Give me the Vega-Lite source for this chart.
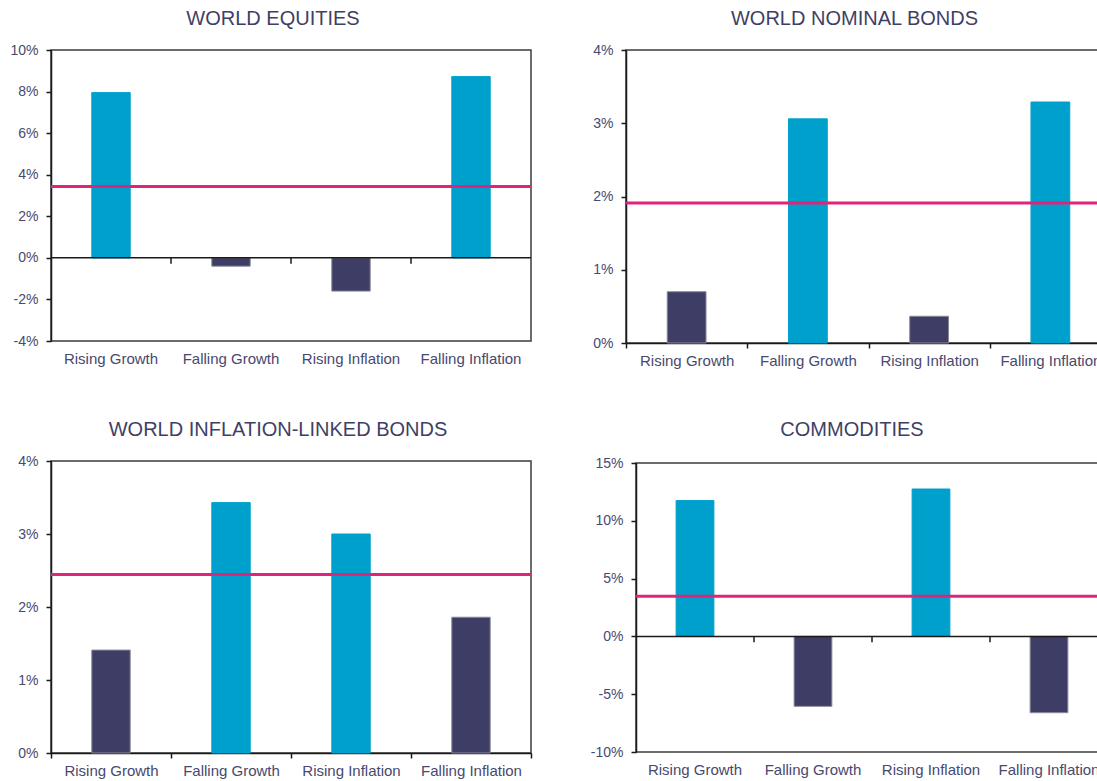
{
  "$schema": "https://vega.github.io/schema/vega-lite/v6.json",
  "padding": {"left": 0, "top": 8, "right": 0, "bottom": 0},
  "background": "white",
  "config": {
    "font": "Liberation Sans",
    "view": {"stroke": "#3c3c3c", "strokeWidth": 1.5},
    "axis": {"grid": false, "labelFont": "Liberation Sans", "labelColor": "#48496e", "domainColor": "#1a1a1a", "tickColor": "#1a1a1a", "domainWidth": 1.5, "tickWidth": 1.5, "title": null},
    "axisY": {"labelFontSize": 14, "tickSize": 5, "labelPadding": 8},
    "axisX": {"labelFontSize": 15, "labelAngle": 0, "minExtent": 30, "maxExtent": 30},
    "title": {"font": "Liberation Sans", "fontSize": 20, "fontWeight": "normal", "color": "#3f3f66", "offset": 14, "anchor": "middle"}
  },
  "datasets": {
    "bars": [
      {"panel": "eq", "cat": "Rising Growth", "value": 7.95, "vsAvg": "above"},
      {"panel": "eq", "cat": "Falling Growth", "value": -0.4, "vsAvg": "below"},
      {"panel": "eq", "cat": "Rising Inflation", "value": -1.6, "vsAvg": "below"},
      {"panel": "eq", "cat": "Falling Inflation", "value": 8.72, "vsAvg": "above"},
      {"panel": "nb", "cat": "Rising Growth", "value": 0.70, "vsAvg": "below"},
      {"panel": "nb", "cat": "Falling Growth", "value": 3.06, "vsAvg": "above"},
      {"panel": "nb", "cat": "Rising Inflation", "value": 0.365, "vsAvg": "below"},
      {"panel": "nb", "cat": "Falling Inflation", "value": 3.29, "vsAvg": "above"},
      {"panel": "il", "cat": "Rising Growth", "value": 1.41, "vsAvg": "below"},
      {"panel": "il", "cat": "Falling Growth", "value": 3.43, "vsAvg": "above"},
      {"panel": "il", "cat": "Rising Inflation", "value": 3.0, "vsAvg": "above"},
      {"panel": "il", "cat": "Falling Inflation", "value": 1.86, "vsAvg": "below"},
      {"panel": "cm", "cat": "Rising Growth", "value": 11.75, "vsAvg": "above"},
      {"panel": "cm", "cat": "Falling Growth", "value": -6.05, "vsAvg": "below"},
      {"panel": "cm", "cat": "Rising Inflation", "value": 12.75, "vsAvg": "above"},
      {"panel": "cm", "cat": "Falling Inflation", "value": -6.6, "vsAvg": "below"}
    ],
    "avg": [
      {"panel": "eq", "value": 3.43},
      {"panel": "nb", "value": 1.91},
      {"panel": "il", "value": 2.445},
      {"panel": "cm", "value": 3.47}
    ]
  },
  "columns": 2,
  "align": "none",
  "spacing": {"row": 45, "column": 40},
  "concat": [
    {
      "title": {"text": "WORLD EQUITIES", "dx": -18},
      "width": 480,
      "height": 291,
      "layer": [
        {
          "data": {"name": "bars"},
          "transform": [{"filter": "datum.panel === 'eq'"}],
          "mark": {"type": "bar", "width": {"band": 0.32}, "strokeWidth": 1},
          "encoding": {
            "x": {"field": "cat", "type": "nominal", "sort": null, "scale": {"paddingInner": 0, "paddingOuter": 0}, "axis": {"ticks": false, "labelPadding": 10, "domain": false}},
            "y": {"field": "value", "type": "quantitative", "scale": {"domain": [-4, 10], "nice": false}, "axis": {"values": [-4, -2, 0, 2, 4, 6, 8, 10], "labelExpr": "datum.value + '%'", "minExtent": 50, "maxExtent": 50}},
            "color": {"field": "vsAvg", "type": "nominal", "scale": {"domain": ["above", "below"], "range": ["#00A0CC", "#3D3D66"]}, "legend": null},
            "stroke": {"field": "vsAvg", "type": "nominal", "scale": {"domain": ["above", "below"], "range": ["#00A0CC", "#8a8a99"]}, "legend": null}
          }
        },
        {
          "data": {"name": "avg"},
          "transform": [{"filter": "datum.panel === 'eq'"}],
          "mark": {"type": "rule", "color": "#1a1a1a", "strokeWidth": 1.5},
          "encoding": {"y": {"datum": 0}}
        },
        {
          "data": {"name": "bars"},
          "transform": [{"filter": "datum.panel === 'eq' && datum.cat !== 'Rising Growth'"}],
          "mark": {"type": "rule", "color": "#1a1a1a", "strokeWidth": 1.5},
          "encoding": {
            "x": {"field": "cat", "type": "nominal", "sort": null, "bandPosition": 0},
            "y": {"datum": 0},
            "y2": {"datum": -0.28}
          }
        },
        {
          "data": {"name": "avg"},
          "transform": [{"filter": "datum.panel === 'eq'"}],
          "mark": {"type": "rule", "color": "#E0247A", "strokeWidth": 3},
          "encoding": {"y": {"field": "value", "type": "quantitative"}}
        }
      ]
    },
    {
      "title": {"text": "WORLD NOMINAL  BONDS", "dx": -14},
      "width": 485,
      "height": 293,
      "layer": [
        {
          "data": {"name": "bars"},
          "transform": [{"filter": "datum.panel === 'nb'"}],
          "mark": {"type": "bar", "width": {"band": 0.32}, "strokeWidth": 1},
          "encoding": {
            "x": {"field": "cat", "type": "nominal", "sort": null, "scale": {"paddingInner": 0, "paddingOuter": 0}, "axis": {"ticks": true, "tickSize": 5, "tickBand": "extent", "labelPadding": 5}},
            "y": {"field": "value", "type": "quantitative", "scale": {"domain": [0, 4], "nice": false}, "axis": {"values": [0, 1, 2, 3, 4], "labelExpr": "datum.value + '%'", "minExtent": 51, "maxExtent": 51}},
            "color": {"field": "vsAvg", "type": "nominal", "scale": {"domain": ["above", "below"], "range": ["#00A0CC", "#3D3D66"]}, "legend": null},
            "stroke": {"field": "vsAvg", "type": "nominal", "scale": {"domain": ["above", "below"], "range": ["#00A0CC", "#8a8a99"]}, "legend": null}
          }
        },
        {
          "data": {"name": "avg"},
          "transform": [{"filter": "datum.panel === 'nb'"}],
          "mark": {"type": "rule", "color": "#E0247A", "strokeWidth": 3},
          "encoding": {"y": {"field": "value", "type": "quantitative"}}
        }
      ]
    },
    {
      "title": {"text": "WORLD INFLATION-LINKED  BONDS", "dx": -13},
      "width": 480,
      "height": 292,
      "layer": [
        {
          "data": {"name": "bars"},
          "transform": [{"filter": "datum.panel === 'il'"}],
          "mark": {"type": "bar", "width": {"band": 0.32}, "strokeWidth": 1},
          "encoding": {
            "x": {"field": "cat", "type": "nominal", "sort": null, "scale": {"paddingInner": 0, "paddingOuter": 0}, "axis": {"ticks": true, "tickSize": 5, "tickBand": "extent", "labelPadding": 5}},
            "y": {"field": "value", "type": "quantitative", "scale": {"domain": [0, 4], "nice": false}, "axis": {"values": [0, 1, 2, 3, 4], "labelExpr": "datum.value + '%'", "minExtent": 50, "maxExtent": 50}},
            "color": {"field": "vsAvg", "type": "nominal", "scale": {"domain": ["above", "below"], "range": ["#00A0CC", "#3D3D66"]}, "legend": null},
            "stroke": {"field": "vsAvg", "type": "nominal", "scale": {"domain": ["above", "below"], "range": ["#00A0CC", "#8a8a99"]}, "legend": null}
          }
        },
        {
          "data": {"name": "avg"},
          "transform": [{"filter": "datum.panel === 'il'"}],
          "mark": {"type": "rule", "color": "#E0247A", "strokeWidth": 3},
          "encoding": {"y": {"field": "value", "type": "quantitative"}}
        }
      ]
    },
    {
      "title": {"text": "COMMODITIES", "offset": 16, "dx": -20},
      "width": 472,
      "height": 289,
      "layer": [
        {
          "data": {"name": "bars"},
          "transform": [{"filter": "datum.panel === 'cm'"}],
          "mark": {"type": "bar", "width": {"band": 0.32}, "strokeWidth": 1},
          "encoding": {
            "x": {"field": "cat", "type": "nominal", "sort": null, "scale": {"paddingInner": 0, "paddingOuter": 0}, "axis": {"ticks": false, "labelPadding": 10, "domain": false}},
            "y": {"field": "value", "type": "quantitative", "scale": {"domain": [-10, 15], "nice": false}, "axis": {"values": [-10, -5, 0, 5, 10, 15], "labelExpr": "datum.value + '%'", "minExtent": 61, "maxExtent": 61}},
            "color": {"field": "vsAvg", "type": "nominal", "scale": {"domain": ["above", "below"], "range": ["#00A0CC", "#3D3D66"]}, "legend": null},
            "stroke": {"field": "vsAvg", "type": "nominal", "scale": {"domain": ["above", "below"], "range": ["#00A0CC", "#8a8a99"]}, "legend": null}
          }
        },
        {
          "data": {"name": "avg"},
          "transform": [{"filter": "datum.panel === 'cm'"}],
          "mark": {"type": "rule", "color": "#1a1a1a", "strokeWidth": 1.5},
          "encoding": {"y": {"datum": 0}}
        },
        {
          "data": {"name": "bars"},
          "transform": [{"filter": "datum.panel === 'cm' && datum.cat !== 'Rising Growth'"}],
          "mark": {"type": "rule", "color": "#1a1a1a", "strokeWidth": 1.5},
          "encoding": {
            "x": {"field": "cat", "type": "nominal", "sort": null, "bandPosition": 0},
            "y": {"datum": 0},
            "y2": {"datum": -0.5}
          }
        },
        {
          "data": {"name": "avg"},
          "transform": [{"filter": "datum.panel === 'cm'"}],
          "mark": {"type": "rule", "color": "#E0247A", "strokeWidth": 3},
          "encoding": {"y": {"field": "value", "type": "quantitative"}}
        }
      ]
    }
  ]
}
